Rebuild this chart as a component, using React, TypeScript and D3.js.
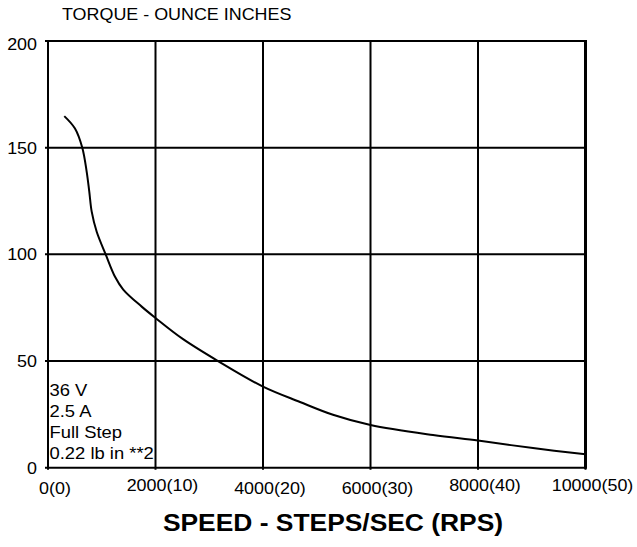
import React from "react";
import * as d3 from "d3";

const speed = [303, 502, 638, 720, 768, 813, 906, 1073, 1247, 1400, 1743, 2000, 2500, 3163, 4000, 4688, 5302, 6000, 7163, 8000, 9023, 10000];
const torque = [164.8, 159, 150, 138.7, 129.4, 120, 110.6, 100, 89.5, 83.5, 75.5, 70.2, 60.5, 50, 38, 30.8, 24.8, 20, 15.3, 12.7, 9.2, 6.3];
const xTicks = [0, 2000, 4000, 6000, 8000, 10000];
const xTickLabels = ["0(0)", "2000(10)", "4000(20)", "6000(30)", "8000(40)", "10000(50)"];
const yTicks = [0, 50, 100, 150, 200];
const notes = ["36 V", "2.5 A", "Full Step", "0.22 lb in **2"];
const yTitle = "TORQUE - OUNCE INCHES";
const xTitle = "SPEED - STEPS/SEC (RPS)";

const W = 637, H = 547;
const L = 48, R = 585.5, T = 41, B = 467.7;
const FONT = "Arial, 'Liberation Sans', Helvetica, sans-serif";
const SX = 1.12;
const xLabelDy = [3, 0, 3, 3, 0, 0];

export default function App() {
  const x = d3.scaleLinear().domain([0, 10000]).range([L, R]);
  const y = d3.scaleLinear().domain([0, 200]).range([B, T]);
  const data = speed.map((s, i) => [s, torque[i]] as [number, number]);
  const line = d3.line<[number, number]>().x(d => x(d[0])).y(d => y(d[1])).curve(d3.curveCatmullRom.alpha(0.5));

  return (
    <svg width={W} height={H} style={{ position: "absolute", left: 0, top: 0, background: "#fff" }} fontFamily={FONT}>
      <rect x={0} y={0} width={W} height={H} fill="#fff" />
      {xTicks.map(t => (
        <line key={"gx" + t} x1={x(t)} x2={x(t)} y1={T} y2={B + 2} stroke="#000" strokeWidth={2} />
      ))}
      {yTicks.map(t => (
        <line key={"gy" + t} x1={L - 3} x2={R} y1={y(t)} y2={y(t)} stroke="#000" strokeWidth={2} />
      ))}
      <line x1={R} x2={R} y1={T - 1} y2={B + 1} stroke="#000" strokeWidth={3} />
      <path d={line(data) || ""} fill="none" stroke="#000" strokeWidth={2} />
      {yTicks.map(t => (
        <text key={"yl" + t} transform={`translate(${L - 11},${y(t) + (t === 200 ? 9 : 6)}) scale(${SX},1)`} textAnchor="end" fontSize={16} fill="#000">{t}</text>
      ))}
      {xTicks.map((t, i) => (
        <text key={"xl" + t} transform={`translate(${x(t) + 7},${491 + xLabelDy[i]}) scale(${SX},1)`} textAnchor="middle" fontSize={16} fill="#000">{xTickLabels[i]}</text>
      ))}
      {notes.map((n, i) => (
        <text key={"n" + i} transform={`translate(${L + 1.5},${395.5 + i * 21}) scale(1.15,1)`} fontSize={16} fill="#000">{n}</text>
      ))}
      <text transform={`translate(62,20) scale(${SX},1)`} fontSize={16} fill="#000">{yTitle}</text>
      <text transform={`translate(333,531) scale(1.1,1)`} textAnchor="middle" fontSize={24} fontWeight="bold" fill="#000">{xTitle}</text>
    </svg>
  );
}
